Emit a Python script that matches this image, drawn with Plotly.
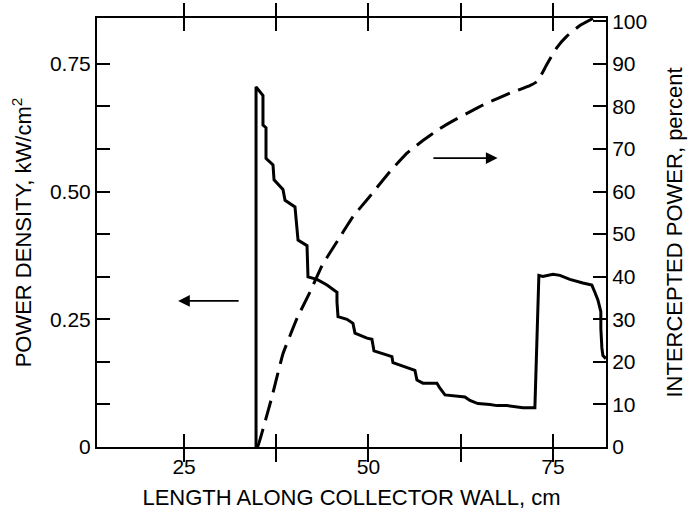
import plotly.graph_objects as go

# Power density (left axis, kW/cm^2) vs length along collector wall (cm)
pd_x = [34.76, 34.76, 35.70, 35.70, 36.11, 36.11, 37.06, 37.20, 38.41, 38.69,
        40.04, 40.31, 40.45, 41.67, 41.80, 43.02, 44.38, 45.73, 45.73, 45.87,
        47.09, 47.90, 48.17, 49.80, 50.47, 50.75, 51.97, 53.18, 53.32, 54.67,
        56.30, 56.57, 57.38, 59.28, 59.69, 60.37, 61.45, 63.08, 63.75, 64.84,
        66.46, 67.41, 68.77, 69.58, 70.93, 72.56, 72.70, 72.83, 72.97, 73.10,
        73.64, 75.00, 75.95, 77.30, 79.07, 79.74, 80.28, 80.69, 81.10, 81.50,
        81.50, 81.64, 81.78, 82.18]
pd_y = [0.0, 0.705, 0.688, 0.630, 0.625, 0.565, 0.552, 0.523, 0.504, 0.483,
        0.470, 0.432, 0.405, 0.394, 0.333, 0.328, 0.317, 0.303, 0.284, 0.255,
        0.250, 0.242, 0.223, 0.213, 0.211, 0.188, 0.183, 0.177, 0.165, 0.158,
        0.150, 0.131, 0.125, 0.125, 0.115, 0.102, 0.100, 0.098, 0.091, 0.085,
        0.083, 0.081, 0.081, 0.079, 0.077, 0.077, 0.137, 0.231, 0.284, 0.336,
        0.334, 0.338, 0.336, 0.328, 0.321, 0.319, 0.317, 0.303, 0.288, 0.265,
        0.232, 0.194, 0.179, 0.173]

# Intercepted power (right axis, percent)
ip_x = [34.76, 35.03, 35.70, 36.92, 38.41, 40.31, 42.07, 43.70, 45.87, 47.90,
        50.20, 52.91, 55.22, 57.38, 59.69, 61.45, 64.70, 66.06, 69.17, 71.88,
        72.83, 73.64, 74.19, 75.54, 76.90, 78.66, 80.60]
ip_y = [0.0, 0.3, 4.2, 11.8, 21.9, 30.2, 36.4, 42.6, 48.6, 54.1,
        58.9, 64.7, 69.0, 72.0, 74.8, 76.6, 79.6, 80.8, 83.1, 84.9,
        85.8, 88.1, 89.9, 93.8, 96.5, 99.0, 100.8]

x_ticks = [25, 37.5, 50, 62.5, 75]
x_labels = ["25", "", "50", "", "75"]
y_ticks = [k / 12 for k in range(10)]
y_labels = ["0", "", "", "0.25", "", "", "0.50", "", "", "0.75"]
y2_ticks = list(range(0, 101, 10))
y2_labels = [str(v) for v in y2_ticks]

FONT = "Liberation Sans, Arial, Helvetica, sans-serif"

fig = go.Figure()
fig.add_trace(go.Scatter(x=pd_x, y=pd_y, mode="lines",
                         line=dict(color="black", width=3), yaxis="y",
                         showlegend=False))
fig.add_trace(go.Scatter(x=ip_x, y=ip_y, mode="lines",
                         line=dict(color="black", width=3, dash="20px,9px",
                                   shape="spline", smoothing=0.3),
                         yaxis="y2", showlegend=False, cliponaxis=True))

# arrows
fig.add_annotation(x=24.2, y=0.286, ax=32.6, ay=0.286, xref="x", yref="y",
                   axref="x", ayref="y", text="", showarrow=True,
                   arrowhead=2, arrowsize=1.3, arrowwidth=1.8, arrowcolor="black")
fig.add_annotation(x=67.5, y=0.5655, ax=58.6, ay=0.5655, xref="x", yref="y",
                   axref="x", ayref="y", text="", showarrow=True,
                   arrowhead=2, arrowsize=1.3, arrowwidth=1.8, arrowcolor="black")

fig.update_layout(
    width=700, height=516,
    margin=dict(l=97, r=94, t=10, b=68),
    paper_bgcolor="white", plot_bgcolor="white",
    font=dict(family=FONT, color="black", size=21),
    xaxis=dict(range=[13.2, 82.2], tickvals=x_ticks, ticktext=x_labels,
               ticks="inside", ticklen=13, tickwidth=1.5, tickcolor="black",
               showline=True, linecolor="black", linewidth=2, mirror="allticks",
               showgrid=False, zeroline=False,
               title=dict(text="LENGTH ALONG COLLECTOR WALL, cm",
                          font=dict(size=22), standoff=12),
               tickfont=dict(size=21)),
    yaxis=dict(range=[0, 0.8397], tickvals=y_ticks, ticktext=y_labels,
               ticks="inside", ticklen=13, tickwidth=1.5, tickcolor="black",
               showline=True, linecolor="black", linewidth=2,
               showgrid=False, zeroline=False,
               title=dict(text="POWER DENSITY, kW/cm<sup>2</sup>",
                          font=dict(size=22), standoff=12),
               tickfont=dict(size=21)),
    yaxis2=dict(range=[0, 100.76], tickvals=y2_ticks, ticktext=y2_labels,
                overlaying="y", side="right",
                ticks="inside", ticklen=13, tickwidth=1.5, tickcolor="black",
                showline=True, linecolor="black", linewidth=2,
                showgrid=False, zeroline=False,
                title=dict(text="INTERCEPTED POWER, percent",
                           font=dict(size=22), standoff=20),
                tickfont=dict(size=21)),
)

fig.write_html("out.html")
